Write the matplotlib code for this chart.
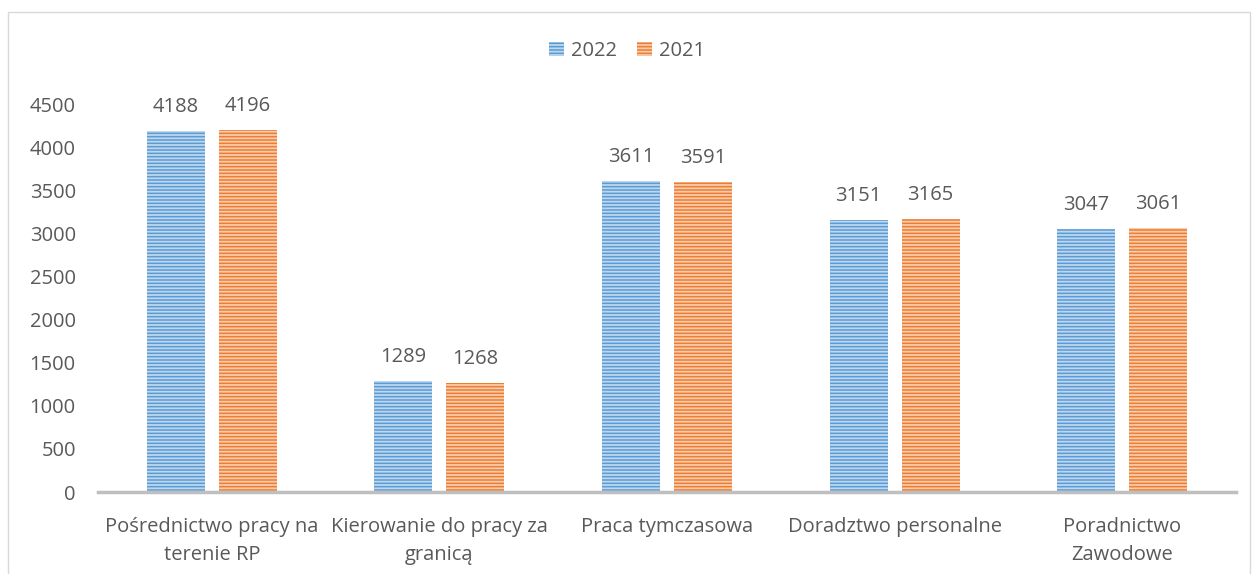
import numpy as np
import matplotlib.pyplot as plt
from matplotlib.patches import Rectangle

categories = ['Pośrednictwo pracy na\nterenie RP', 'Kierowanie do pracy za\ngranicą',
              'Praca tymczasowa', 'Doradztwo personalne', 'Poradnictwo\nZawodowe']
values_2022 = [4188, 1289, 3611, 3151, 3047]
values_2021 = [4196, 1268, 3591, 3165, 3061]
yticks = [0, 500, 1000, 1500, 2000, 2500, 3000, 3500, 4000, 4500]

BLUE = '#5B9BD5'
ORANGE = '#ED7D31'
TEXT = '#595959'
FS = 14.5

plt.rcParams['font.family'] = ['Open Sans', 'DejaVu Sans']
plt.rcParams['hatch.linewidth'] = 1.3

fig = plt.figure(figsize=(12.54, 5.74), dpi=100)
ax = fig.add_axes([98 / 1254, 1 - 492 / 574, 1138 / 1254, 388 / 574])

x = np.arange(len(categories))
w = 0.255
off = 0.158
b1 = ax.bar(x - off, values_2022, w, color=BLUE, edgecolor='#BDD7EE', linewidth=0,
            hatch='-----', label='2022')
b2 = ax.bar(x + off, values_2021, w, color=ORANGE, edgecolor='#F8CBAD', linewidth=0,
            hatch='-----', label='2021')

for bars in (b1, b2):
    for rect in bars:
        h = rect.get_height()
        ax.annotate(str(int(h)), (rect.get_x() + rect.get_width() / 2, h),
                    xytext=(0, 10), textcoords='offset points',
                    ha='center', va='bottom', fontsize=FS, color=TEXT)

ax.set_xlim(-0.5, len(categories) - 0.5)
ax.set_ylim(0, 4500)
ax.set_yticks(yticks)
ax.set_xticks(x)
ax.set_xticklabels(categories, fontsize=FS, color=TEXT, linespacing=1.55)
ax.tick_params(axis='y', length=0, labelsize=FS, labelcolor=TEXT, pad=16)
ax.tick_params(axis='x', length=0, pad=18)
for s in ['top', 'right', 'left']:
    ax.spines[s].set_visible(False)
ax.spines['bottom'].set_color('#BFBFBF')
ax.spines['bottom'].set_linewidth(2.5)

leg = fig.legend(loc='center', bbox_to_anchor=(0.5, 1 - 51 / 574), ncol=2, frameon=False,
                 fontsize=FS, handlelength=0.75, handleheight=0.75, columnspacing=1.0,
                 handletextpad=0.35)
for t in leg.get_texts():
    t.set_color(TEXT)

fig.patches.append(Rectangle((8 / 1254, -0.1), 1242 / 1254, 1.1 - 12 / 574,
                             transform=fig.transFigure, fill=False,
                             edgecolor='#D9D9D9', linewidth=1))

fig.savefig('out.png', dpi=100)
